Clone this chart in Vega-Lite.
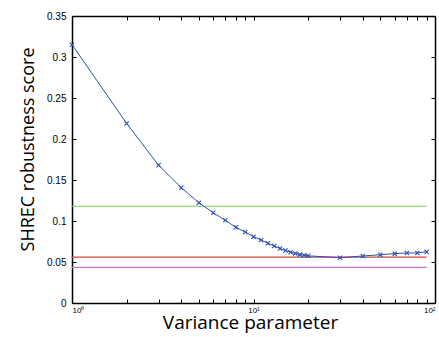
{
  "$schema": "https://vega.github.io/schema/vega-lite/v6.json",
  "width": 363,
  "height": 287,
  "autosize": {"type": "none"},
  "padding": {"left": 72, "top": 16, "right": 4, "bottom": 34},
  "config": {
    "view": {"stroke": null},
    "axis": {
      "grid": false,
      "domainColor": "black",
      "domainWidth": 1.5,
      "tickColor": "black",
      "tickSize": -4,
      "tickWidth": 1,
      "labelFont": "Liberation Sans",
      "labelFontSize": 10,
      "labelColor": "black",
      "titleFont": "Open Sans",
      "titleFontWeight": "normal",
      "titleFontSize": 18,
      "titleColor": "black"
    }
  },
  "datasets": {
    "curve": [
      {"v": 1, "s": 0.315},
      {"v": 2, "s": 0.219},
      {"v": 3, "s": 0.168},
      {"v": 4, "s": 0.1406},
      {"v": 5, "s": 0.1223},
      {"v": 6, "s": 0.110},
      {"v": 7, "s": 0.1008},
      {"v": 8, "s": 0.0923},
      {"v": 9, "s": 0.0866},
      {"v": 10, "s": 0.0809},
      {"v": 11, "s": 0.0768},
      {"v": 12, "s": 0.0728},
      {"v": 13, "s": 0.0695},
      {"v": 14, "s": 0.0665},
      {"v": 15, "s": 0.064},
      {"v": 16, "s": 0.062},
      {"v": 17, "s": 0.0605},
      {"v": 18, "s": 0.059},
      {"v": 19, "s": 0.0582},
      {"v": 20, "s": 0.0575},
      {"v": 30, "s": 0.0553},
      {"v": 40, "s": 0.0573},
      {"v": 50, "s": 0.0589},
      {"v": 60, "s": 0.0602},
      {"v": 70, "s": 0.061},
      {"v": 80, "s": 0.061},
      {"v": 90, "s": 0.0626}
    ],
    "refs": [
      {"name": "green", "a": 1, "b": 90, "y": 0.118},
      {"name": "red", "a": 1, "b": 90, "y": 0.056},
      {"name": "magenta", "a": 1, "b": 90, "y": 0.0435}
    ]
  },
  "layer": [
    {
      "data": {"name": "refs"},
      "mark": {"type": "rule", "strokeWidth": 1.2},
      "encoding": {
        "x": {"field": "a", "type": "quantitative",
              "scale": {"type": "log", "domain": [1, 100], "nice": false},
              "axis": {"orient": "top", "labels": false, "title": null,
                       "values": [1,2,3,4,5,6,7,8,9,10,20,30,40,50,60,70,80,90,100]}},
        "x2": {"field": "b"},
        "y": {"field": "y", "type": "quantitative",
              "scale": {"domain": [0, 0.35], "nice": false},
              "axis": {"orient": "right", "labels": false, "title": null,
                       "values": [0, 0.05, 0.1, 0.15, 0.2, 0.25, 0.3, 0.35]}},
        "color": {"field": "name", "type": "nominal",
                  "scale": {"domain": ["green", "red", "magenta"], "range": ["#7ccb5c", "#e0413d", "#d274c4"]},
                  "legend": null}
      }
    },
    {
      "data": {"name": "curve"},
      "mark": {"type": "line", "color": "#2f4fb2", "strokeWidth": 1},
      "encoding": {
        "x": {"field": "v", "type": "quantitative",
              "scale": {"type": "log", "domain": [1, 100], "nice": false},
              "axis": {"orient": "bottom", "title": "Variance parameter",
                       "titleFontSize": 19, "titleX": 178, "titleY": 25, "titleBaseline": "alphabetic",
                       "labelPadding": 7, "labelFontSize": 8,
                       "values": [1,2,3,4,5,6,7,8,9,10,20,30,40,50,60,70,80,90,100],
                       "labelExpr": "datum.value == 1 ? '10⁰' : datum.value == 10 ? '10¹' : datum.value == 100 ? '10²' : ''"}},
        "y": {"field": "s", "type": "quantitative",
              "scale": {"domain": [0, 0.35], "nice": false},
              "axis": {"orient": "left", "title": "SHREC robustness score",
                       "titleX": -39, "titleY": 133, "titleBaseline": "alphabetic", "titleAngle": -90,
                       "labelPadding": 10,
                       "values": [0, 0.05, 0.1, 0.15, 0.2, 0.25, 0.3, 0.35],
                       "format": ".2~f"}}
      }
    },
    {
      "data": {"name": "curve"},
      "mark": {"type": "point", "shape": "M-1,-1L1,1M-1,1L1,-1", "filled": false, "size": 18, "color": "#2f4fb2", "strokeWidth": 1.1, "opacity": 1},
      "encoding": {
        "x": {"field": "v", "type": "quantitative", "axis": null},
        "y": {"field": "s", "type": "quantitative", "axis": null}
      }
    }
  ],
  "resolve": {"axis": {"x": "independent", "y": "independent"}}
}
